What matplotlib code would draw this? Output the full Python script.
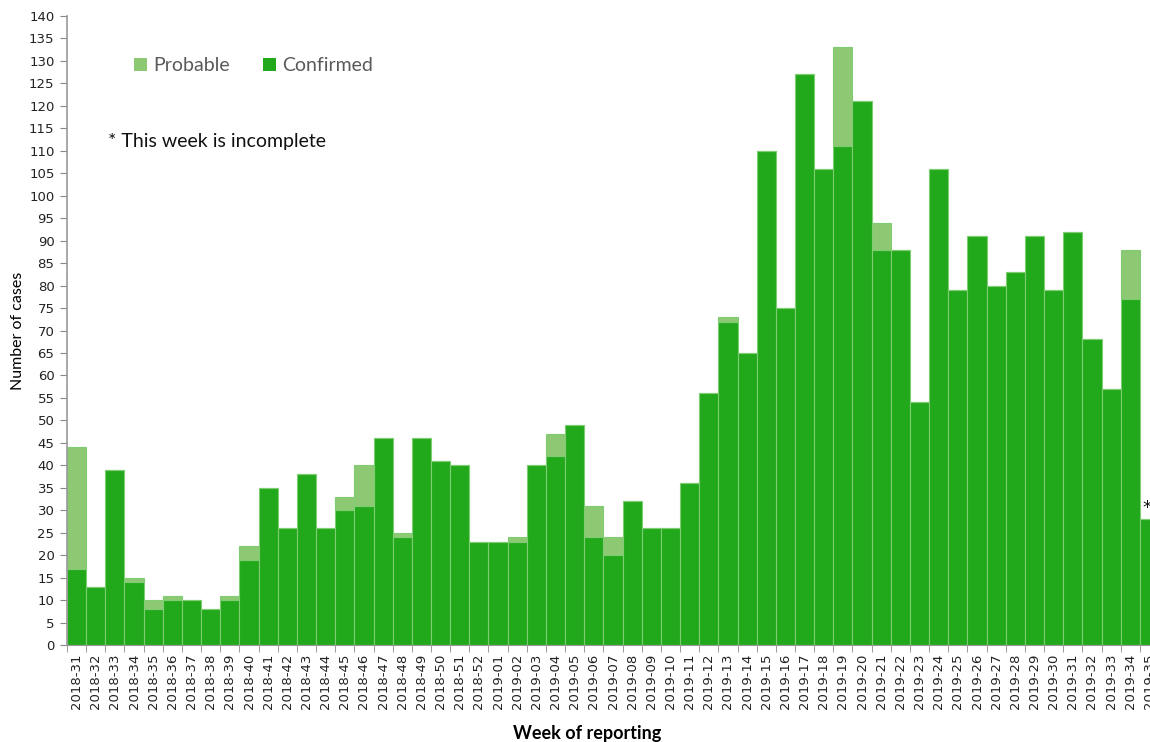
import matplotlib
matplotlib.use("Agg")
import matplotlib.pyplot as plt
import numpy as np

weeks = (["2018-%02d" % w for w in range(31, 53)] +
         ["2019-%02d" % w for w in range(1, 36)])

confirmed = [17, 13, 39, 14, 8, 10, 10, 8, 10, 19, 35, 26, 38, 26, 30, 31, 46,
             24, 46, 41, 40, 23, 23, 23, 40, 42, 49, 24, 20, 32, 26, 26, 36,
             56, 72, 65, 110, 75, 127, 106, 111, 121, 88, 88, 54, 106, 79, 91,
             80, 83, 91, 79, 92, 68, 57, 77, 28]
probable = [27, 0, 0, 1, 2, 1, 0, 0, 1, 3, 0, 0, 0, 0, 3, 9, 0,
            1, 0, 0, 0, 0, 0, 1, 0, 5, 0, 7, 4, 0, 0, 0, 0,
            0, 1, 0, 0, 0, 0, 0, 22, 0, 6, 0, 0, 0, 0, 0,
            0, 0, 0, 0, 0, 0, 0, 11, 0]

c_conf = "#22a81b"
c_prob = "#8dc972"
edge = "#7fcd73"

fig = plt.figure(figsize=(11.5, 7.42), dpi=100)
# plot area runs slightly past the right edge, like the original
ax = fig.add_axes([67 / 1150, 97 / 742, 1092 / 1150, 629 / 742])

x = np.arange(len(weeks))
ax.bar(x, confirmed, width=1.0, color=c_conf, edgecolor=edge, linewidth=0.8,
       label="Confirmed")
ax.bar(x, probable, width=1.0, bottom=confirmed, color=c_prob, edgecolor=edge,
       linewidth=0.8, label="Probable")

ax.set_xlim(-0.5, len(weeks) - 0.5)
ax.set_ylim(0, 140)
ax.set_yticks(np.arange(0, 141, 5))
ax.set_xticks(x)
ax.set_xticklabels(weeks, rotation=90, fontsize=9.5, family="DejaVu Sans",
                   color="#222222")
ax.set_xticks(np.arange(-0.5, len(weeks), 1), minor=True)
ax.tick_params(axis="x", which="major", length=0, pad=6)
ax.tick_params(axis="x", which="minor", length=5, color="#888888")
ax.tick_params(axis="y", length=5, color="#888888", labelsize=9.5,
               labelcolor="#222222", pad=4)

for s in ["top", "right"]:
    ax.spines[s].set_visible(False)
ax.spines["left"].set_color("#999999")
ax.spines["bottom"].set_color("#999999")
ax.spines["left"].set_linewidth(1.2)

ax.set_ylabel("Number of cases", fontsize=11.5, family="Lato", labelpad=3)
fig.text(587 / 1150, 1 - 733 / 742, "Week of reporting", ha="center",
         va="center", fontsize=13, fontweight="bold", family="Lato")

# legend
handles, labels = ax.get_legend_handles_labels()
leg = ax.legend(handles[::-1], labels[::-1], loc="upper left",
                bbox_to_anchor=(0.045, 0.962), ncol=2, frameon=False,
                handlelength=0.7, handleheight=0.7,
                handletextpad=0.3, columnspacing=1.7,
                prop={"family": "Lato", "size": 14})
for t in leg.get_texts():
    t.set_color("#595959")
for h in leg.legend_handles:
    h.set_edgecolor("none")

fig.text(108 / 1150, 1 - 141 / 742, "* This week is incomplete", ha="left",
         va="center", fontsize=14, family="Lato", color="#111111")

ax.text(x[-1] - 0.15, confirmed[-1] + probable[-1] + 0.5, "*", ha="center",
        va="bottom", fontsize=13, color="#111111")

fig.savefig("out.png", dpi=100)
